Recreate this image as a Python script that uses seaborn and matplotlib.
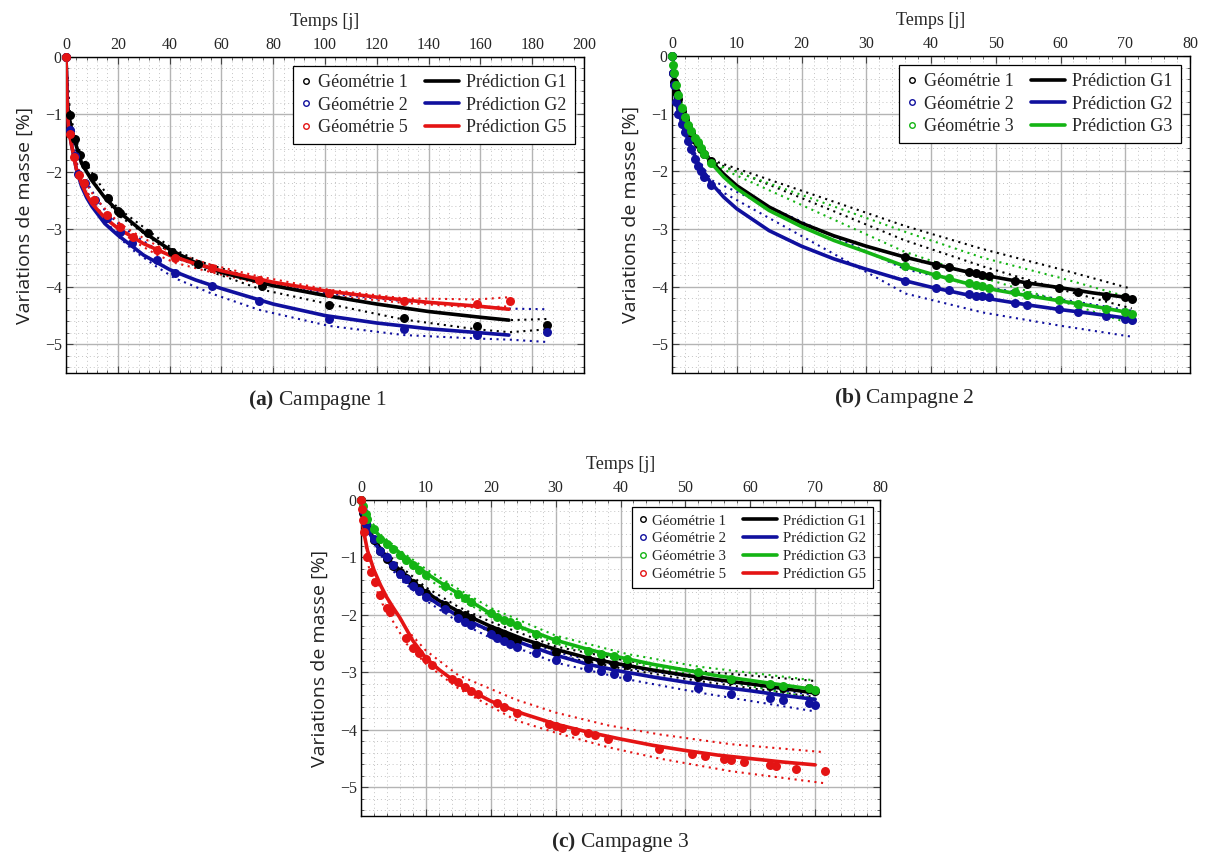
import numpy as np
import pandas as pd
import matplotlib
matplotlib.use('Agg')
import matplotlib.pyplot as plt
import seaborn as sns
from matplotlib.lines import Line2D
from matplotlib.legend_handler import HandlerLine2D
from matplotlib.ticker import MultipleLocator

# ---------------------------------------------------------------
# Campagne 1 (a)
a_t_g1 = [0, 1.5, 3.5, 5.4, 7.3, 10.4, 16.2, 20, 21, 31.7, 40.9, 51, 75.7, 101.5, 130.5, 158.7, 185.7]
a_m_g1 = [0, -1.01, -1.43, -1.71, -1.88, -2.09, -2.46, -2.68, -2.72, -3.07, -3.39, -3.6, -3.99, -4.32, -4.55, -4.69, -4.67]
a_t_g2 = [0, 1.5, 3.5, 4.6, 7.3, 11.2, 15.8, 20.8, 25.5, 35, 42, 56.4, 74.5, 101.5, 130.5, 158.7, 185.7]
a_m_g2 = [0, -1.27, -1.72, -2.03, -2.2, -2.49, -2.8, -3.05, -3.24, -3.54, -3.76, -3.99, -4.25, -4.56, -4.74, -4.84, -4.79]
a_t_g5 = [0, 1.5, 3.1, 5.0, 6.9, 10.8, 15.8, 20.8, 25.9, 35, 42, 56.4, 74.5, 101.5, 130.5, 158.7, 171.4]
a_m_g5 = [0, -1.34, -1.74, -2.05, -2.2, -2.49, -2.75, -2.96, -3.13, -3.36, -3.5, -3.68, -3.88, -4.11, -4.25, -4.3, -4.25]

a_tb_g1 = [0, 1.5, 3.5, 5.4, 7.3, 10.4, 16.2, 20, 31.7, 40.9, 51, 75.7, 101.5, 130.5, 158.7, 171.4, 185.7]
a_hi_g1 = [0, -0.95, -1.38, -1.65, -1.82, -2.04, -2.42, -2.63, -3.02, -3.33, -3.55, -3.9, -4.16, -4.38, -4.52, -4.58, -4.56]
a_lo_g1 = [0, -1.05, -1.48, -1.76, -1.94, -2.14, -2.52, -2.75, -3.12, -3.43, -3.66, -4.05, -4.3, -4.57, -4.74, -4.79, -4.74]
a_tb_g2 = [0, 1.5, 3.5, 4.6, 7.3, 11.2, 15.8, 20.8, 25.5, 35, 42, 56.4, 74.5, 101.5, 130.5, 158.7, 171.4, 185.7]
a_hi_g2 = [0, -1.2, -1.62, -1.95, -2.12, -2.42, -2.72, -2.92, -3.08, -3.35, -3.5, -3.7, -3.92, -4.12, -4.25, -4.33, -4.38, -4.39]
a_lo_g2 = [0, -1.32, -1.8, -2.1, -2.28, -2.58, -2.88, -3.15, -3.35, -3.65, -3.85, -4.12, -4.4, -4.68, -4.84, -4.9, -4.92, -4.96]
a_tb_g5 = [0, 1.5, 3.1, 5.0, 6.9, 10.8, 15.8, 20.8, 25.9, 35, 42, 56.4, 74.5, 101.5, 130.5, 158.7, 171.4]
a_hi_g5 = [0, -1.28, -1.68, -1.98, -2.14, -2.42, -2.68, -2.9, -3.05, -3.28, -3.42, -3.62, -3.82, -4.05, -4.2, -4.22, -4.18]
a_lo_g5 = [0, -1.4, -1.8, -2.12, -2.26, -2.56, -2.82, -3.02, -3.2, -3.44, -3.58, -3.75, -3.94, -4.15, -4.28, -4.36, -4.34]

a_tp = [0, 0.5, 1, 2, 4, 6, 8, 10, 15, 20, 30, 40, 50, 60, 80, 100, 120, 140, 160, 171]
a_p_g1 = [0, -0.75, -1.0, -1.22, -1.55, -1.85, -2.0, -2.15, -2.45, -2.68, -3.05, -3.35, -3.58, -3.75, -3.98, -4.15, -4.3, -4.43, -4.53, -4.58]
a_p_g2 = [0, -0.9, -1.2, -1.5, -1.95, -2.25, -2.45, -2.6, -2.9, -3.1, -3.45, -3.7, -3.88, -4.03, -4.3, -4.5, -4.63, -4.73, -4.8, -4.84]
a_p_g5 = [0, -0.9, -1.25, -1.5, -1.95, -2.2, -2.4, -2.55, -2.8, -2.98, -3.25, -3.45, -3.6, -3.72, -3.92, -4.07, -4.18, -4.27, -4.34, -4.39]

# ---------------------------------------------------------------
# Campagne 2 (b)
b_t = [0, 0.1, 0.3, 0.6, 1, 1.5, 2, 2.5, 3, 3.5, 4, 4.5, 5, 6,
       36, 40.8, 42.8, 45.8, 46.9, 47.9, 48.9, 53, 54.9, 59.7, 62.7, 67.1, 69.9, 71]
b_m_g1 = [0, -0.3, -0.45, -0.62, -0.75, -0.95, -1.1, -1.22, -1.33, -1.45, -1.52, -1.62, -1.7, -1.82,
          -3.49, -3.62, -3.66, -3.75, -3.77, -3.8, -3.82, -3.9, -3.95, -4.02, -4.09, -4.16, -4.19, -4.21]
b_m_g2 = [0, -0.3, -0.5, -0.8, -1.0, -1.18, -1.32, -1.47, -1.62, -1.78, -1.9, -2.0, -2.1, -2.24,
          -3.9, -4.02, -4.06, -4.13, -4.16, -4.17, -4.19, -4.28, -4.32, -4.39, -4.45, -4.51, -4.57, -4.58]
b_m_g3 = [0, -0.15, -0.3, -0.5, -0.68, -0.9, -1.05, -1.2, -1.3, -1.42, -1.5, -1.6, -1.7, -1.85,
          -3.65, -3.8, -3.86, -3.94, -3.97, -3.99, -4.02, -4.1, -4.15, -4.24, -4.31, -4.39, -4.45, -4.48]

b_tb = [0, 1, 3, 6, 36, 48, 60, 71]
b_hi_g1 = [0, -0.7, -1.3, -1.8, -2.95, -3.35, -3.7, -4.04]
b_lo_g1 = [0, -0.8, -1.38, -1.82, -3.2, -3.65, -4.05, -4.38]
b_hi_g2 = [0, -0.95, -1.58, -2.15, -3.7, -4.0, -4.22, -4.42]
b_lo_g2 = [0, -1.05, -1.68, -2.25, -4.12, -4.45, -4.68, -4.87]
b_hi_g3 = [0, -0.65, -1.28, -1.85, -3.05, -3.5, -3.85, -4.2]
b_lo_g3 = [0, -0.72, -1.35, -1.87, -3.4, -3.85, -4.25, -4.65]

b_tp = [0, 0.5, 1, 2, 3, 4, 6, 8, 10, 15, 20, 25, 30, 36, 40, 45, 50, 55, 60, 65, 71]
b_p_g1 = [0, -0.55, -0.75, -1.08, -1.33, -1.52, -1.82, -2.05, -2.25, -2.62, -2.9, -3.12, -3.3, -3.49, -3.6, -3.73, -3.84, -3.94, -4.02, -4.11, -4.2]
b_p_g2 = [0, -0.7, -0.98, -1.32, -1.6, -1.85, -2.2, -2.45, -2.65, -3.03, -3.3, -3.52, -3.7, -3.9, -4.01, -4.13, -4.23, -4.32, -4.4, -4.47, -4.56]
b_p_g3 = [0, -0.5, -0.72, -1.08, -1.33, -1.53, -1.85, -2.1, -2.3, -2.68, -2.96, -3.2, -3.4, -3.65, -3.78, -3.93, -4.06, -4.16, -4.25, -4.34, -4.46]

# ---------------------------------------------------------------
# Campagne 3 (c)
c_t = [0, 0.3, 0.7, 1, 2, 3, 4, 5, 6, 7, 8, 9, 10, 13, 15, 16, 17, 20, 21, 22, 23, 24,
       27, 30, 35, 37, 39, 41, 52, 57, 63, 65, 69, 70]
c_m_g1 = [0, -0.22, -0.4, -0.5, -0.7, -0.88, -1.02, -1.15, -1.25, -1.35, -1.44, -1.53, -1.62, -1.83, -1.96, -2.0,
          -2.06, -2.24, -2.28, -2.33, -2.38, -2.44, -2.53, -2.65, -2.76, -2.81, -2.85, -2.88, -3.08, -3.14,
          -3.23, -3.27, -3.27, -3.33]
c_m_g2 = [0, -0.2, -0.42, -0.52, -0.68, -0.88, -1.0, -1.14, -1.29, -1.37, -1.5, -1.59, -1.68, -1.9, -2.06, -2.12,
          -2.18, -2.33, -2.4, -2.45, -2.5, -2.55, -2.66, -2.78, -2.92, -2.98, -3.03, -3.08, -3.28, -3.37,
          -3.45, -3.48, -3.54, -3.56]
c_m_g3 = [0, -0.1, -0.25, -0.33, -0.5, -0.68, -0.76, -0.86, -0.95, -1.05, -1.13, -1.22, -1.3, -1.5, -1.63, -1.7,
          -1.77, -1.97, -2.03, -2.08, -2.12, -2.17, -2.33, -2.44, -2.62, -2.68, -2.72, -2.76, -2.99, -3.11,
          -3.21, -3.24, -3.28, -3.31]
c_t5 = [0, 0.1, 0.3, 0.5, 1, 1.5, 2.2, 3, 4, 4.5, 7, 8, 9, 10, 11, 14, 15, 16, 17, 18, 21, 22, 24,
        29, 30, 31, 33, 35, 36, 38, 46, 51, 53, 56, 57, 59, 63, 64, 67, 71.5]
c_m_g5 = [0, -0.15, -0.35, -0.55, -1.0, -1.25, -1.42, -1.65, -1.88, -1.95, -2.4, -2.57, -2.66, -2.77, -2.88,
          -3.12, -3.17, -3.25, -3.32, -3.38, -3.54, -3.6, -3.71, -3.9, -3.94, -3.96, -4.02, -4.06, -4.09,
          -4.16, -4.33, -4.42, -4.46, -4.51, -4.53, -4.56, -4.62, -4.63, -4.68, -4.72]

c_tb = [0, 1, 3, 6, 10, 15, 20, 30, 41, 52, 70]
c_hi_g1 = [0, -0.45, -0.82, -1.15, -1.52, -1.86, -2.12, -2.55, -2.8, -2.98, -3.15]
c_lo_g1 = [0, -0.55, -0.95, -1.32, -1.7, -2.03, -2.3, -2.7, -2.95, -3.15, -3.43]
c_hi_g2 = [0, -0.45, -0.82, -1.2, -1.58, -1.93, -2.2, -2.65, -2.92, -3.1, -3.4]
c_lo_g2 = [0, -0.55, -0.95, -1.38, -1.75, -2.12, -2.4, -2.83, -3.12, -3.35, -3.68]
c_hi_g3 = [0, -0.28, -0.6, -0.88, -1.2, -1.55, -1.88, -2.36, -2.68, -2.9, -3.14]
c_lo_g3 = [0, -0.38, -0.72, -1.0, -1.35, -1.72, -2.02, -2.5, -2.82, -3.06, -3.46]
c_tb5 = [0, 1, 3, 7, 10, 15, 24, 30, 38, 46, 57, 71.5]
c_hi_g5 = [0, -0.95, -1.55, -2.25, -2.62, -3.05, -3.48, -3.7, -3.92, -4.08, -4.25, -4.39]
c_lo_g5 = [0, -1.1, -1.75, -2.5, -2.85, -3.28, -3.84, -4.05, -4.3, -4.5, -4.72, -4.93]

c_tp = [0, 0.3, 0.7, 1, 2, 3, 4, 5, 6, 8, 10, 12, 15, 20, 25, 30, 35, 40, 45, 50, 55, 60, 65, 70]
c_p_g1 = [0, -0.2, -0.38, -0.48, -0.68, -0.85, -1.0, -1.12, -1.22, -1.42, -1.6, -1.75, -1.94, -2.2, -2.42, -2.6, -2.75, -2.86, -2.96, -3.05, -3.13, -3.2, -3.28, -3.36]
c_p_g2 = [0, -0.2, -0.4, -0.5, -0.72, -0.9, -1.05, -1.18, -1.29, -1.5, -1.67, -1.82, -2.02, -2.28, -2.5, -2.7, -2.86, -2.98, -3.08, -3.17, -3.25, -3.32, -3.4, -3.47]
c_p_g3 = [0, -0.15, -0.3, -0.38, -0.52, -0.64, -0.74, -0.83, -0.92, -1.1, -1.27, -1.42, -1.63, -1.98, -2.23, -2.44, -2.6, -2.74, -2.86, -2.96, -3.06, -3.14, -3.22, -3.3]
c_tp5 = [0, 0.2, 0.5, 1, 2, 3, 4, 5, 6, 8, 10, 12, 15, 20, 25, 30, 35, 40, 45, 50, 55, 60, 65, 70]
c_p_g5 = [0, -0.35, -0.6, -0.88, -1.22, -1.48, -1.7, -1.88, -2.05, -2.45, -2.75, -2.95, -3.2, -3.5, -3.72, -3.9, -4.04, -4.16, -4.27, -4.36, -4.44, -4.5, -4.56, -4.61]

# colours of the geometries
col = {'1': '#000000', '2': '#10109e', '3': '#14b414', '5': '#e41414'}

#%%
sns.set_style("ticks")
plt.rcParams['font.family'] = ['Liberation Serif', 'DejaVu Serif']
plt.rcParams['mathtext.fontset'] = 'custom'
plt.rcParams['mathtext.rm'] = 'Liberation Serif'
plt.rcParams['mathtext.bf'] = 'Liberation Serif:bold'
plt.rcParams['axes.unicode_minus'] = True


class LongLine(HandlerLine2D):
    # legend line that reaches to the left of its handle box
    def __init__(self, ext, **kw):
        super().__init__(**kw)
        self.ext = ext

    def get_xdata(self, legend, xdescent, ydescent, width, height, fontsize):
        x0 = -xdescent - self.ext * fontsize
        x1 = -xdescent + width
        return np.array([x0, x1]), np.array([0.5 * (x0 + x1)])


def draw_panel(ax, groups, xmax, xstep, xminor, leg_fs, ext, colsp):
    for g in groups:
        c = col[g['n']]
        band = pd.DataFrame({'t': g['tb'], 'hi': g['hi'], 'lo': g['lo']})
        for key in ['hi', 'lo']:
            sns.lineplot(data=band, x='t', y=key, ax=ax, color=c, lw=1.5,
                         linestyle=(0, (1, 2.2)), errorbar=None, legend=False, zorder=2)
    for g in groups:
        c = col[g['n']]
        pred = pd.DataFrame({'t': g['tp'], 'm': g['p']})
        sns.lineplot(data=pred, x='t', y='m', ax=ax, color=c, lw=2.6,
                     errorbar=None, legend=False, zorder=3)
    for g in groups:
        c = col[g['n']]
        pts = pd.DataFrame({'t': g['t'], 'm': g['m']})
        sns.scatterplot(data=pts, x='t', y='m', ax=ax, color=c, s=42, linewidth=0,
                        legend=False, zorder=4, clip_on=False)

    ax.set_xlim(0, xmax)
    ax.set_ylim(-5.5, 0)
    ax.xaxis.set_major_locator(MultipleLocator(xstep))
    ax.xaxis.set_minor_locator(MultipleLocator(xminor))
    ax.yaxis.set_major_locator(MultipleLocator(1))
    ax.yaxis.set_minor_locator(MultipleLocator(0.2))
    ax.set_axisbelow(True)
    ax.grid(which='major', color='#b4b4b4', lw=1.0, ls='-')
    ax.grid(which='minor', color='#c4c4c4', lw=0.7, ls=(0, (1, 3)))
    ax.xaxis.tick_top()
    ax.xaxis.set_label_position('top')
    ax.tick_params(which='both', direction='in', top=True, bottom=True, left=True, right=True,
                   labeltop=True, labelbottom=False, color='#444444')
    ax.tick_params(which='major', length=5, width=0.8, labelsize=11.5, pad=3)
    ax.tick_params(which='minor', length=2.5, width=0.6)
    for sp in ax.spines.values():
        sp.set_color('black')
        sp.set_linewidth(1.0)
    ax.set_xlabel('Temps [j]', fontsize=13, labelpad=8)
    ax.set_ylabel('Variations de masse [%]', fontsize=14, labelpad=8,
                  family=['Open Sans', 'DejaVu Sans'], color='#222222')

    geo = [Line2D([], [], ls='None', marker='o', mfc='none', mec=col[g['n']], ms=4, mew=1.0)
           for g in groups]
    prd = [Line2D([], [], color=col[g['n']], lw=2.6) for g in groups]
    labels = ['Géométrie ' + g['n'] for g in groups] + ['Prédiction G' + g['n'] for g in groups]
    leg = ax.legend(geo + prd, labels, ncol=2, loc='upper right', fontsize=leg_fs,
                    handlelength=0.5, handletextpad=0.4, columnspacing=colsp,
                    labelspacing=0.3, borderpad=0.45, borderaxespad=0.5,
                    fancybox=False, framealpha=1, edgecolor='black', numpoints=1,
                    handler_map={h: LongLine(ext) for h in prd})
    leg.get_frame().set_linewidth(0.9)


fig = plt.figure(figsize=(12.05, 8.57), dpi=100)
ax_a = fig.add_axes([66 / 1205, 1 - 373 / 857, 518 / 1205, 316 / 857])
ax_b = fig.add_axes([672 / 1205, 1 - 373 / 857, 518 / 1205, 317 / 857])
ax_c = fig.add_axes([361 / 1205, 1 - 816 / 857, 519 / 1205, 316 / 857])

groups_a = [
    dict(n='1', t=a_t_g1, m=a_m_g1, tb=a_tb_g1, hi=a_hi_g1, lo=a_lo_g1, tp=a_tp, p=a_p_g1),
    dict(n='2', t=a_t_g2, m=a_m_g2, tb=a_tb_g2, hi=a_hi_g2, lo=a_lo_g2, tp=a_tp, p=a_p_g2),
    dict(n='5', t=a_t_g5, m=a_m_g5, tb=a_tb_g5, hi=a_hi_g5, lo=a_lo_g5, tp=a_tp, p=a_p_g5),
]
groups_b = [
    dict(n='1', t=b_t, m=b_m_g1, tb=b_tb, hi=b_hi_g1, lo=b_lo_g1, tp=b_tp, p=b_p_g1),
    dict(n='2', t=b_t, m=b_m_g2, tb=b_tb, hi=b_hi_g2, lo=b_lo_g2, tp=b_tp, p=b_p_g2),
    dict(n='3', t=b_t, m=b_m_g3, tb=b_tb, hi=b_hi_g3, lo=b_lo_g3, tp=b_tp, p=b_p_g3),
]
groups_c = [
    dict(n='1', t=c_t, m=c_m_g1, tb=c_tb, hi=c_hi_g1, lo=c_lo_g1, tp=c_tp, p=c_p_g1),
    dict(n='2', t=c_t, m=c_m_g2, tb=c_tb, hi=c_hi_g2, lo=c_lo_g2, tp=c_tp, p=c_p_g2),
    dict(n='3', t=c_t, m=c_m_g3, tb=c_tb, hi=c_hi_g3, lo=c_lo_g3, tp=c_tp, p=c_p_g3),
    dict(n='5', t=c_t5, m=c_m_g5, tb=c_tb5, hi=c_hi_g5, lo=c_lo_g5, tp=c_tp5, p=c_p_g5),
]

draw_panel(ax_a, groups_a, 200, 20, 4, 13, 1.4, 2.35)
draw_panel(ax_b, groups_b, 80, 10, 2, 13, 1.4, 2.35)
draw_panel(ax_c, groups_c, 80, 10, 2, 10.7, 1.8, 2.9)

fig.text(318 / 1205, 1 - 400 / 857, r'$\mathbf{(a)}$ Campagne 1', fontsize=15.5, ha='center', va='center')
fig.text(904 / 1205, 1 - 398 / 857, r'$\mathbf{(b)}$ Campagne 2', fontsize=15.5, ha='center', va='center')
fig.text(620 / 1205, 1 - 842 / 857, r'$\mathbf{(c)}$ Campagne 3', fontsize=15.5, ha='center', va='center')

fig.savefig('out.png', dpi=100)
